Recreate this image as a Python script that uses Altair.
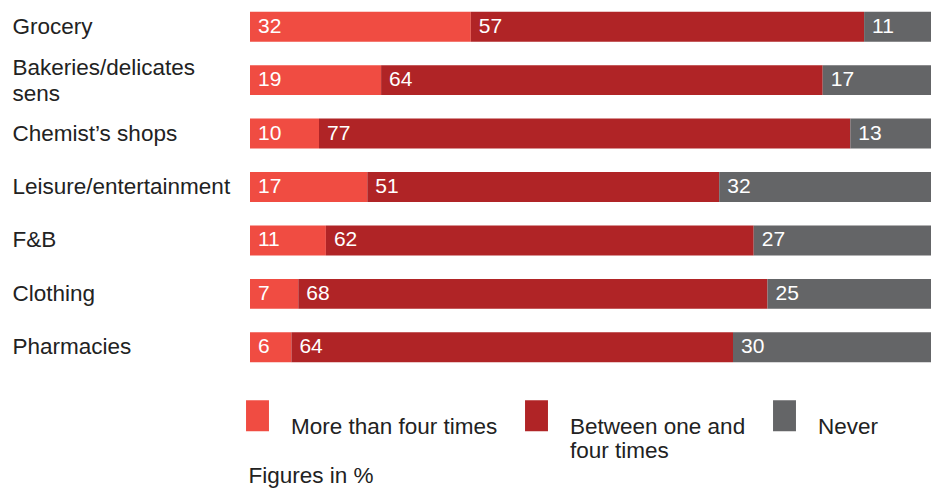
import altair as alt
import pandas as pd

categories = ["Grocery", "Bakeries/delicatessens", "Chemist\u2019s shops",
              "Leisure/entertainment", "F&B", "Clothing", "Pharmacies"]
series = ["More than four times", "Between one and four times", "Never"]
more_than_four = [32, 19, 10, 17, 11, 7, 6]
between_one_four = [57, 64, 77, 51, 62, 68, 64]
never = [11, 17, 13, 32, 27, 25, 30]
colors = ["#F04C42", "#B02426", "#646567"]

rows = []
for vals, s_idx in ((more_than_four, 0), (between_one_four, 1), (never, 2)):
    for c, v in zip(categories, vals):
        rows.append({"category": c, "series": series[s_idx], "idx": s_idx, "value": v})
df = pd.DataFrame(rows)

FONT = "Liberation Sans"
xscale = alt.Scale(domain=[0, 100], range=[0, 690], nice=False, zero=True)
yscale = alt.Scale(paddingInner=0.44, paddingOuter=0.22)
xaxis = alt.Axis(title="Figures in %", labels=False, ticks=False, domain=False, grid=False,
                 titleAnchor="start", titleAlign="left", titleX=-2, titleY=101,
                 titleBaseline="middle", titleFontSize=22.5, titleFontWeight="normal",
                 titleFont=FONT, titleColor="#222222")

base = alt.Chart(df)

bars = base.mark_bar(clip=True).encode(
    x=alt.X("value:Q", stack="zero", scale=xscale, axis=xaxis),
    y=alt.Y("category:N", sort=categories, scale=yscale,
            axis=alt.Axis(title=None, ticks=False, domain=False, labelAlign="left",
                          labelPadding=238, labelFontSize=22.5, labelFont=FONT,
                          labelColor="#222222", labelLimit=400, labelLineHeight=26,
                          labelOffset={"condition": {"test": "datum.value == 'Bakeries/delicatessens'", "value": -12}, "value": 0},
                          labelExpr="datum.label == 'Bakeries/delicatessens' ? ['Bakeries/delicates', 'sens'] : datum.label")),
    color=alt.Color("series:N", sort=series, scale=alt.Scale(domain=series, range=colors),
                    legend=alt.Legend(orient="none", legendX=-8, legendY=400, direction="horizontal",
                                      columns=3, title=None, padding=0,
                                      symbolType="M-0.74,-1H0.74V1H-0.74Z", symbolSize=961,
                                      symbolStrokeWidth=0, symbolOpacity=1,
                                      labelFontSize=22.5, labelFont=FONT, labelColor="#222222",
                                      labelBaseline="top",
                                      labelOffset=18, columnPadding=23, labelLimit=400,
                                      labelExpr="datum.label == 'Between one and four times' ? ['Between one and', 'four times'] : [datum.label, ' ']")),
    order=alt.Order("idx:Q"),
)

text = base.transform_stack(
    stack="value", groupby=["category"], as_=["x0", "x1"], sort=[alt.SortField("idx")]
).mark_text(align="left", baseline="middle", dx=8, color="white", fontSize=21, font=FONT).encode(
    x=alt.X("x0:Q", scale=xscale, axis=xaxis),
    y=alt.Y("category:N", sort=categories, scale=yscale),
    text="value:Q",
)

chart = alt.layer(bars, text).properties(
    width=681, height=374,
    padding={"left": 250, "top": 0, "right": 0, "bottom": 115},
    autosize=alt.AutoSizeParams(type="none"),
).configure_view(stroke=None)

chart.save("out.html", embed_options={"renderer": "svg", "actions": False})
